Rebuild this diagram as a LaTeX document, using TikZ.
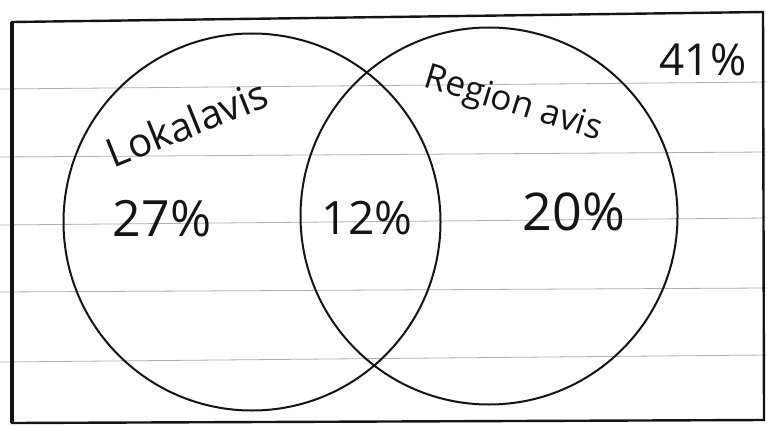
\documentclass[tikz,border=0pt]{standalone}
\usepackage{fontspec}
\setmainfont{Open Sans}
\usepackage{xcolor}
\definecolor{Ink}{RGB}{20,20,20}
\definecolor{Rule}{RGB}{175,175,175}
\usetikzlibrary{positioning}

\begin{document}
\begin{tikzpicture}[x=1pt, y=-1pt,
  ring/.style={circle, draw=Ink, line width=2pt, minimum size=377pt, inner sep=0pt},
  hand/.style={text=Ink, inner sep=0pt, font=\fontsize{#1}{#1}\selectfont},
  rule/.style={draw=Rule, line width=0.8pt}
]
\useasboundingbox (0,0) rectangle (767,425);
\fill[white] (0,0) rectangle (767,425);

% ruled paper lines (slightly tilted)
\foreach \ya/\yb in {89/82, 157/152, 225/218, 292/288, 362/355}
  { \draw[rule] (0,\ya) -- (767,\yb); }

% hand drawn frame
\draw[Ink, line width=2.4pt] (12,22) -- (763,12) -- (764,420) -- (12,423) -- cycle;
\draw[Ink, line width=3.2pt] (12,22) -- (12,423);

% the two sets
\node[ring] (lokal) at (252,222) {};
\node[ring] (region) at (489,216) {};

% set names
\node[hand=40, rotate=22] (lokalname) at (187,123) {Lokalavis};
\node[hand=35, rotate=-17] (regionname) at (513,105) {Region avis};

% shares
\node[hand=50] (onlylokal) at (162,219) {27\%};
\node[hand=46] (both) at (367,218) {12\%};
\node[hand=52] (onlyregion) at (574,212) {20\%};
\node[hand=44] (neither) at (703,60) {41\%};
\end{tikzpicture}
\end{document}
